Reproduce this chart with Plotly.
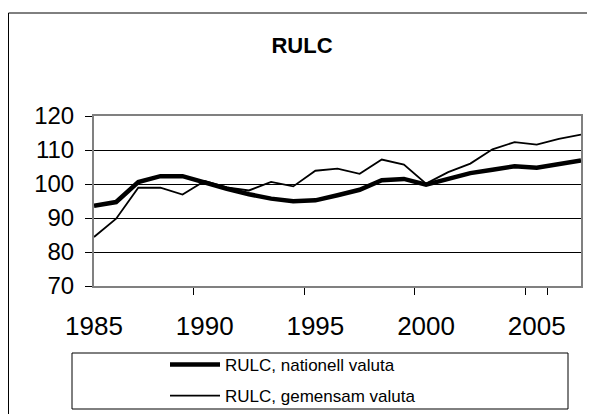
import plotly.graph_objects as go

years = [str(y) for y in range(1985, 2008)]
nationell = [93.6, 94.7, 100.6, 102.3, 102.3, 100.3, 98.6, 97.0, 95.7, 94.9, 95.2, 96.7,
             98.3, 101.1, 101.5, 99.8, 101.6, 103.2, 104.2, 105.2, 104.8, 106.0, 106.9]
gemensam = [84.4, 89.8, 98.9, 98.9, 96.9, 100.9, 99.0, 98.1, 100.6, 99.3, 103.9, 104.5,
            103.0, 107.2, 105.7, 100.1, 103.5, 106.0, 110.2, 112.3, 111.6, 113.3, 114.5]
tick_years = ["1985", "1990", "1995", "2000", "2005"]

# page body has an 8px margin, so the figure is shifted by that amount
OFF = 8
W, H = 595 - OFF, 414 - OFF
L, R, T, B = 94 - OFF, 581 - OFF, 116 - OFF, 286 - OFF  # plot area in figure pixels


def px(x):
    return (x - OFF - L) / (R - L)


def py(y):
    return (B - (y - OFF)) / (B - T)


font = "Liberation Sans, Arial, sans-serif"

fig = go.Figure()
fig.add_trace(go.Scatter(x=years, y=nationell, name="RULC, nationell valuta", mode="lines",
                         line=dict(color="black", width=4.5), legendgroup="a"))
fig.add_trace(go.Scatter(x=years, y=gemensam, name="RULC, gemensam valuta", mode="lines",
                         line=dict(color="black", width=1.8), legendgroup="b"))

# outer chart border and legend box (screen pixel positions)
fig.add_shape(type="rect", xref="paper", yref="paper", x0=px(8.5), x1=px(620), y0=py(440), y1=py(13),
              line=dict(color="black", width=1), layer="below")
fig.add_shape(type="rect", xref="paper", yref="paper", x0=px(72), x1=px(568), y0=py(409), y1=py(353),
              line=dict(color="black", width=1))

fig.update_layout(
    width=W, height=H,
    margin=dict(l=L, r=W - R, t=T, b=H - B, autoexpand=False),
    paper_bgcolor="white", plot_bgcolor="white",
    font=dict(family=font, color="black"),
    title=dict(text="<b>RULC</b>", xref="container", x=(302 - OFF) / W, xanchor="center",
               yref="container", y=1 - (45 - OFF) / H, yanchor="middle",
               font=dict(size=22, family=font)),
    showlegend=True,
    legend=dict(x=px(165), xanchor="left", y=py(347), yanchor="top", font=dict(size=17),
                bgcolor="rgba(0,0,0,0)", borderwidth=0, tracegroupgap=6, itemwidth=50),
)
fig.update_xaxes(type="category", tickmode="array", tickvals=tick_years, tickson="boundaries",
                 ticks="outside", ticklen=7, tickcolor="black", showgrid=False, tickangle=0,
                 automargin=False,
                 showline=True, linecolor="#808080", linewidth=2, mirror=True,
                 tickfont=dict(size=26), ticklabelstandoff=16)
fig.update_yaxes(range=[70, 120], dtick=10, ticks="outside", ticklen=7, tickcolor="black",
                 showgrid=True, gridcolor="black", gridwidth=1, zeroline=False, automargin=False,
                 showline=True, linecolor="#808080", linewidth=2, mirror=True,
                 tickfont=dict(size=24), ticklabelstandoff=6)

fig.write_html("out.html")
